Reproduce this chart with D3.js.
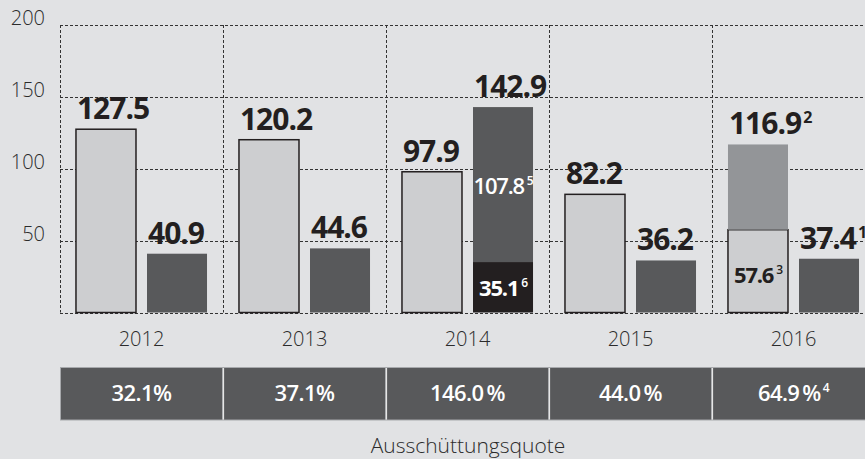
<!DOCTYPE html>
<html>
<head>
<meta charset="utf-8">
<script src="https://cdn.jsdelivr.net/npm/d3@7/dist/d3.min.js"></script>
<style>
  html, body { margin: 0; padding: 0; background: #e1e2e4; }
  svg { display: block; }
  text { font-family: "Open Sans", sans-serif; }
</style>
</head>
<body>
<svg id="chart" width="865" height="459"></svg>
<script>
// ---- data ----
const years = ["2012", "2013", "2014", "2015", "2016"];
const lightValues = [127.5, 120.2, 97.9, 82.2, 116.9];
const lightNotes = ["", "", "", "", "2"];
const darkValues = [40.9, 44.6, 142.9, 36.2, 37.4];
const darkNotes = ["", "", "", "", "1"];
// stacked parts inside bars
const segYears = ["2014", "2014", "2016", "2016"];
const segSeries = ["dark", "dark", "light", "light"];
const segFrom = [0, 35.1, 0, 57.6];
const segTo = [35.1, 142.9, 57.6, 116.9];
const segLabels = ["35.1", "107.8", "57.6", ""];
const segNotes = ["6", "5", "3", ""];
const segKind = ["black", "dark", "light", "gray"];
const yTicks = [50, 100, 150, 200];
const quotes = ["32.1%", "37.1%", "146.0\u2009%", "44.0\u2009%", "64.9\u2009%"];
const quoteNotes = ["", "", "", "", "4"];
const quoteTitle = "Ausschüttungsquote";

// ---- styles ----
const fills = { light: "#cdced0", dark: "#58595b", black: "#231f20", gray: "#939598" };
const labelColors = { light: "#231f20", dark: "#ffffff", black: "#ffffff", gray: "#231f20" };

const svg = d3.select("#chart");
const mLeft = 60, mRight = 875, mTop = 25, mBottom = 312.5;

const x = d3.scaleBand().domain(years).range([mLeft, mRight]).padding(0);
const sub = d3.scaleBand().domain(["light", "dark"]).range([0, x.bandwidth()])
  .paddingInner(0.155).paddingOuter(0.225);
const y = d3.scaleLinear().domain([0, 200]).range([mBottom, mTop]);

// grid
const grid = svg.append("g").attr("stroke", "#333").attr("stroke-width", 1)
  .attr("stroke-dasharray", "3,2").attr("fill", "none");
grid.selectAll("line.h").data([0].concat(yTicks)).join("line").attr("class", "h")
  .attr("x1", mLeft).attr("x2", 865)
  .attr("y1", d => Math.round(y(d)) + 0.5).attr("y2", d => Math.round(y(d)) + 0.5);
grid.selectAll("line.v").data(years).join("line").attr("class", "v")
  .attr("x1", d => Math.round(x(d)) + 0.5).attr("x2", d => Math.round(x(d)) + 0.5)
  .attr("y1", y(200)).attr("y2", y(0));

// y labels
svg.append("g").selectAll("text").data(yTicks).join("text")
  .attr("x", 45).attr("y", d => y(d))
  .attr("text-anchor", "end").attr("font-size", 20).attr("font-weight", 300)
  .attr("fill", "#2b2b2b").text(d => d);

// bars
const rows = years.map((yr, i) => ({ yr, i }));
const bars = svg.append("g");
rows.filter(r => !segYears.some((s, k) => s === r.yr && segSeries[k] === "light")).forEach(r => {
  bars.append("rect")
    .attr("x", x(r.yr) + sub("light")).attr("width", sub.bandwidth())
    .attr("y", y(lightValues[r.i])).attr("height", y(0) - y(lightValues[r.i]))
    .attr("fill", fills.light).attr("stroke", "#231f20").attr("stroke-width", 1.5);
});
rows.filter(r => !segYears.some((s, k) => s === r.yr && segSeries[k] === "dark")).forEach(r => {
  bars.append("rect")
    .attr("x", x(r.yr) + sub("dark")).attr("width", sub.bandwidth())
    .attr("y", y(darkValues[r.i])).attr("height", y(0) - y(darkValues[r.i]))
    .attr("fill", fills.dark);
});
segYears.forEach((yr, k) => {
  const xx = x(yr) + sub(segSeries[k]);
  const r = bars.append("rect")
    .attr("x", xx).attr("width", sub.bandwidth())
    .attr("y", y(segTo[k])).attr("height", y(segFrom[k]) - y(segTo[k]))
    .attr("fill", fills[segKind[k]]);
  if (segKind[k] === "light") r.attr("stroke", "#231f20").attr("stroke-width", 1.5);
  if (segLabels[k]) {
    const cy = (y(segFrom[k]) + y(segTo[k])) / 2;
    const t = bars.append("text")
      .attr("x", xx + sub.bandwidth() / 2).attr("y", cy + (segKind[k] === "light" ? 12 : 9))
      .attr("text-anchor", "middle").attr("font-size", 22)
      .attr("font-weight", segKind[k] === "dark" ? 600 : 700)
      .attr("letter-spacing", -1.2)
      .attr("fill", labelColors[segKind[k]]);
    t.append("tspan").text(segLabels[k]);
    t.append("tspan").attr("font-size", 12).attr("dx", 3).attr("dy", -9).attr("font-weight", 600).text(segNotes[k]);
  }
});

// value labels above bars
function topLabel(series, values, notes) {
  rows.forEach(r => {
    const t = svg.append("text")
      .attr("x", x(r.yr) + sub(series) + 1).attr("y", y(values[r.i]) - 10)
      .attr("font-size", 30).attr("font-weight", 700).attr("letter-spacing", -1)
      .attr("fill", "#231f20");
    t.append("tspan").text(values[r.i]);
    if (notes[r.i]) t.append("tspan").attr("font-size", 16).attr("dx", 2).attr("dy", -11).text(notes[r.i]);
  });
}
topLabel("light", lightValues, lightNotes);
topLabel("dark", darkValues, darkNotes);

// year labels
svg.append("g").selectAll("text").data(years).join("text")
  .attr("x", d => x(d) + x.bandwidth() / 2).attr("y", 346)
  .attr("text-anchor", "middle").attr("font-size", 20).attr("font-weight", 300)
  .attr("fill", "#2b2b2b").text(d => d);

// payout table
const tY = 367.5, tH = 52.5;
const cells = svg.append("g");
cells.selectAll("rect").data(years).join("rect")
  .attr("x", d => x(d) + 0.5).attr("y", tY).attr("width", x.bandwidth() - 1).attr("height", tH)
  .attr("fill", "#58595b").attr("stroke", "#a7a9ac").attr("stroke-width", 1);
cells.selectAll("line").data(years.slice(1)).join("line")
  .attr("x1", d => x(d) + 0.5).attr("x2", d => x(d) + 0.5)
  .attr("y1", tY + 0.5).attr("y2", tY + tH - 0.5)
  .attr("stroke", "#e6e6e6").attr("stroke-width", 1.2);
years.forEach((yr, i) => {
  const t = cells.append("text")
    .attr("x", x(yr) + x.bandwidth() / 2).attr("y", 401)
    .attr("text-anchor", "middle").attr("font-size", 22).attr("font-weight", 600)
    .attr("letter-spacing", -0.6).attr("fill", "#ffffff");
  t.append("tspan").text(quotes[i]);
  if (quoteNotes[i]) t.append("tspan").attr("font-size", 12).attr("dx", 2).attr("dy", -9).text(quoteNotes[i]);
});

svg.append("text").attr("x", 468).attr("y", 453)
  .attr("text-anchor", "middle").attr("font-size", 21).attr("font-weight", 300)
  .attr("fill", "#2b2b2b").text(quoteTitle);
</script>
</body>
</html>
